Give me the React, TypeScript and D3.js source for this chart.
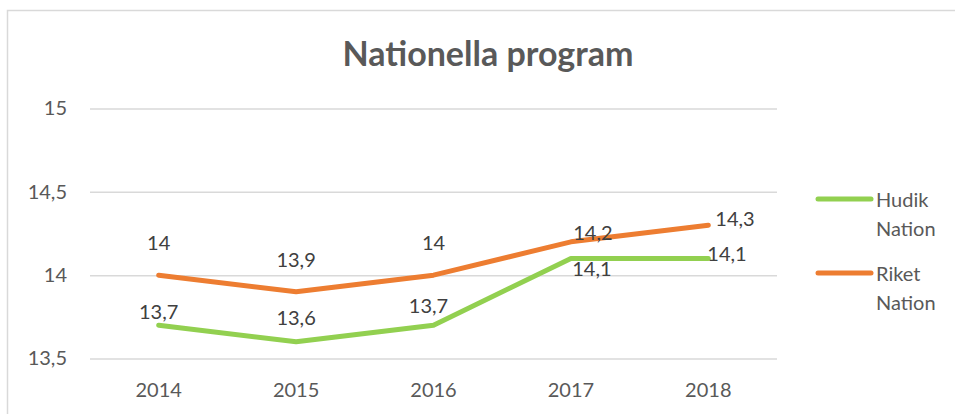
import * as React from 'react';
import * as d3 from 'd3';

const years = ['2014', '2015', '2016', '2017', '2018'];
const hudik = [13.7, 13.6, 13.7, 14.1, 14.1];
const riket = [14, 13.9, 14, 14.2, 14.3];
const yTicks = [13.5, 14, 14.5, 15];
const seriesNames = ['Hudik Nation', 'Riket Nation'];

type Series = { name: string, values: number[], color: string };

// label placement relative to each point (manually nudged in the original)
const labelPos: { [k: string]: [number, number, string][] } = {
    'Hudik Nation': [[0, -6, 'middle'], [0, -17, 'middle'], [-5, -12, 'middle'], [21, 17, 'middle'], [-1, 2, 'start']],
    'Riket Nation': [[0, -25, 'middle'], [0, -25, 'middle'], [0, -25, 'middle'], [22, -2, 'middle'], [7, 1, 'start']],
};

const W = 955, H = 414;
const FONT = 'Lato, "Open Sans", sans-serif';

const fmt = (v: number) => String(v).replace('.', ',');

export default function App() {
    const ref = React.useRef<SVGSVGElement>(null);

    React.useEffect(() => {
        const svg = d3.select(ref.current);
        svg.selectAll('*').remove();

        const series: Series[] = [
            { name: seriesNames[0], values: hudik, color: '#92D050' },
            { name: seriesNames[1], values: riket, color: '#ED7D31' },
        ];

        // chart frame
        svg.append('rect')
            .attr('x', 7.5).attr('y', 10.5)
            .attr('width', 1000).attr('height', 500)
            .attr('fill', '#fff')
            .attr('stroke', '#d9d9d9')
            .attr('stroke-width', 1.5);

        svg.append('text')
            .attr('x', 488).attr('y', 66)
            .attr('text-anchor', 'middle')
            .attr('font-family', FONT)
            .attr('font-weight', 'bold')
            .attr('font-size', 34)
            .attr('fill', '#595959')
            .text('Nationella program');

        const x = d3.scaleBand<string>().domain(years).range([90, 777]);
        const y = d3.scaleLinear().domain([13.5, 15]).range([358.5, 108.5]);
        const cx = (i: number) => x(years[i])! + x.bandwidth() / 2;

        const yAxis = d3.axisLeft(y)
            .tickValues(yTicks)
            .tickSize(-(777 - 90))
            .tickPadding(23)
            .tickFormat(d => fmt(+d));
        svg.append('g')
            .attr('transform', 'translate(90,0)')
            .call(yAxis)
            .call(g => g.select('.domain').remove())
            .call(g => g.selectAll('.tick line').attr('stroke', '#d9d9d9').attr('stroke-width', 1.5))
            .call(g => g.selectAll('.tick text')
                .attr('font-family', FONT).attr('font-size', 20).attr('fill', '#595959'));

        const xAxis = d3.axisBottom(x).tickSize(0).tickPadding(24);
        svg.append('g')
            .attr('transform', 'translate(0,358.5)')
            .call(xAxis)
            .call(g => g.select('.domain').remove())
            .call(g => g.selectAll('.tick text')
                .attr('font-family', FONT).attr('font-size', 20).attr('fill', '#595959'));

        const line = d3.line<number>().x((_, i) => cx(i)).y(d => y(d));

        series.forEach(s => {
            svg.append('path')
                .datum(s.values)
                .attr('fill', 'none')
                .attr('stroke', s.color)
                .attr('stroke-width', 5)
                .attr('stroke-linejoin', 'round')
                .attr('stroke-linecap', 'round')
                .attr('d', line);
        });

        series.forEach(s => {
            svg.append('g').selectAll('text')
                .data(s.values)
                .join('text')
                .attr('x', (_, i) => cx(i) + labelPos[s.name][i][0])
                .attr('y', (d, i) => y(d) + labelPos[s.name][i][1])
                .attr('text-anchor', (_, i) => labelPos[s.name][i][2])
                .attr('font-family', FONT)
                .attr('font-size', 20)
                .attr('fill', '#404040')
                .text(d => fmt(d));
        });

        // legend
        const leg = svg.append('g');
        series.forEach((s, i) => {
            const ly = 199 + i * 74;
            leg.append('line')
                .attr('x1', 818).attr('x2', 871)
                .attr('y1', ly).attr('y2', ly)
                .attr('stroke', s.color).attr('stroke-width', 5)
                .attr('stroke-linecap', 'round');
            const words = s.name.split(' ');
            const t = leg.append('text')
                .attr('font-family', FONT).attr('font-size', 20)
                .attr('fill', '#595959');
            words.forEach((w, j) => {
                t.append('tspan').attr('x', 876).attr('y', ly + 8 + j * 29).text(w);
            });
        });
    }, []);

    return (
        <svg ref={ref} width={W} height={H}
            style={{ position: 'absolute', left: 0, top: 0, background: '#fff' }} />
    );
}
